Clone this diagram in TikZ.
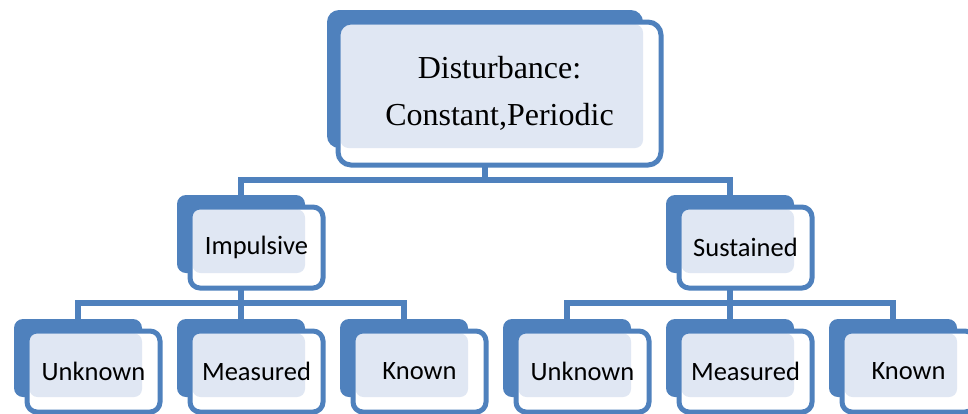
\documentclass[tikz,border=0pt]{standalone}
\usepackage{fontspec}
\setmainfont{Carlito}
\newfontfamily\timesface{Liberation Serif}
\usetikzlibrary{positioning,backgrounds}
\definecolor{smartblue}{RGB}{79,129,189}
\definecolor{dotfill}{RGB}{224,231,243}

\begin{document}
\begin{tikzpicture}[
    x=1pt, y=-1pt,
    back/.style={fill=smartblue, rounded corners=9pt, inner sep=0pt, outer sep=0pt, minimum width=128pt, minimum height=78pt},
    front/.style={draw=smartblue, line width=5pt, fill=white, rounded corners=10pt, inner sep=0pt, outer sep=0pt,
        minimum width=133pt, minimum height=81pt, font=\fontsize{26.5}{31}\selectfont,
        path picture={\fill[dotfill, rounded corners=8pt] ([shift={(2.5pt,-2.5pt)}]path picture bounding box.north west) rectangle (#1.south east);}},
    link/.style={draw=smartblue, line width=5.5pt}
]
\useasboundingbox (0,0) rectangle (968,413);

% Back boxes
\node[back, minimum width=316pt, minimum height=138pt, rounded corners=12pt] (top-b) at (485,79) {};
\node[back] (imp-b) at (241,234) {};
\node[back] (sus-b) at (730,234) {};
\node[back] (unk1-b) at (78,358) {};
\node[back] (mea1-b) at (241,358) {};
\node[back] (kno1-b) at (404,358) {};
\node[back] (unk2-b) at (567,358) {};
\node[back] (mea2-b) at (730,358) {};
\node[back] (kno2-b) at (893,358) {};

% Front boxes
\node[front=top-b, minimum width=323pt, minimum height=143pt, rounded corners=13pt,
    font=\timesface\fontsize{32}{47}\selectfont, align=center] (top) at ([shift={(14.5,14.5)}]top-b.center) {Disturbance:\\Constant,Periodic};
\node[front=imp-b] (imp) at ([shift={(15.5,13.5)}]imp-b.center) {Impulsive};
\node[front=sus-b] (sus) at ([shift={(15.5,13.5)}]sus-b.center) {Sustained};
\node[front=unk1-b] (unk1) at ([shift={(15.5,13.5)}]unk1-b.center) {Unknown};
\node[front=mea1-b] (mea1) at ([shift={(15.5,13.5)}]mea1-b.center) {Measured};
\node[front=kno1-b] (kno1) at ([shift={(15.5,13.5)}]kno1-b.center) {Known};
\node[front=unk2-b] (unk2) at ([shift={(15.5,13.5)}]unk2-b.center) {Unknown};
\node[front=mea2-b] (mea2) at ([shift={(15.5,13.5)}]mea2-b.center) {Measured};
\node[front=kno2-b] (kno2) at ([shift={(15.5,13.5)}]kno2-b.center) {Known};

% Links
\begin{scope}[on background layer]
\draw[link] (top-b.south) -- ++(0,32) -| (imp-b.north);
\draw[link] (top-b.south) -- ++(0,32) -| (sus-b.north);
\draw[link] (imp-b.south) -- ++(0,30) -| (unk1-b.north);
\draw[link] (imp-b.south) -- (mea1-b.north);
\draw[link] (imp-b.south) -- ++(0,30) -| (kno1-b.north);
\draw[link] (sus-b.south) -- ++(0,30) -| (unk2-b.north);
\draw[link] (sus-b.south) -- (mea2-b.north);
\draw[link] (sus-b.south) -- ++(0,30) -| (kno2-b.north);
\end{scope}

\end{tikzpicture}
\end{document}
